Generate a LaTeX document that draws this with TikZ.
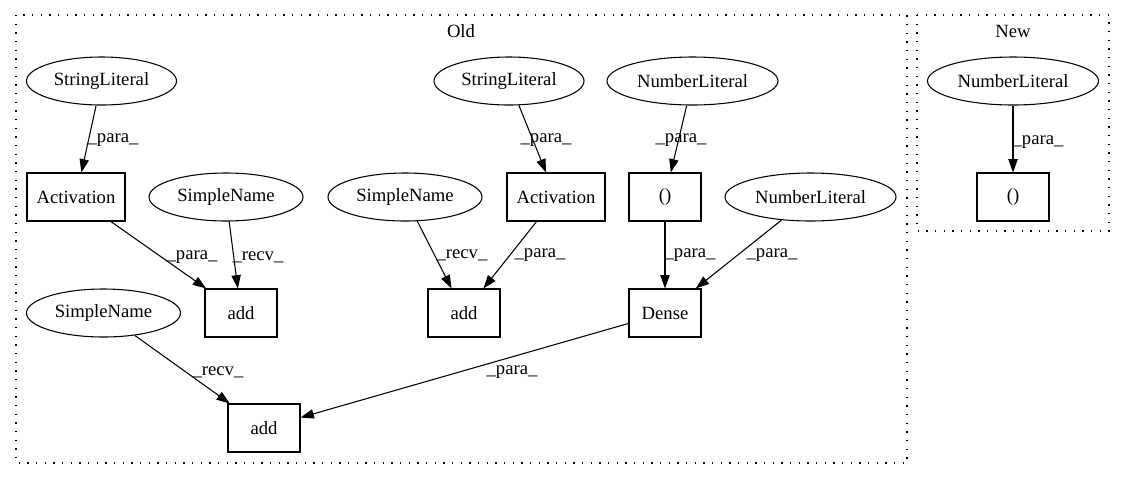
\documentclass[tikz,border=0pt]{standalone}
\usepackage{fontspec}
\setmainfont{Liberation Serif}
\usetikzlibrary{shapes.geometric,arrows.meta}
\begin{document}
\begin{tikzpicture}[x=0.75pt,y=-0.75pt,
  every node/.style={font=\fontsize{14}{16}\selectfont},
  ell/.style={draw,ellipse,line width=0.8pt,inner sep=0pt,minimum height=36pt},
  sl/.style={ell,minimum width=112.5pt},
  nl/.style={ell,minimum width=128.25pt},
  sn/.style={ell,minimum width=115.5pt},
  boxnode/.style={draw,rectangle,line width=0.8pt,inner sep=0pt,minimum height=36pt,minimum width=54pt},
  actbox/.style={boxnode,minimum width=73.5pt},
  edge/.style={draw,line width=0.8pt,-{Triangle[length=10pt,width=7pt]}},
  elab/.style={inner sep=0pt},
  cluster/.style={draw,line width=0.8pt,dash pattern=on 1pt off 5.5pt}]
\useasboundingbox (0,0) rectangle (1125,480);
% clusters
\draw[cluster] (16,15) rectangle (907,463);
\draw[cluster] (917,15) rectangle (1109,231);
\node (oldlbl) at (461,31) {Old};
\node (newlbl) at (1013,31) {New};
% nodes Old
\node[sl] (slL) at (101.5,81) {StringLiteral};
\node[actbox] (actL) at (76,197) {Activation};
\node[sn] (snL) at (226,197) {SimpleName};
\node[boxnode] (addL) at (241,313) {add};
\node[sn] (snM) at (405,197) {SimpleName};
\node[sl] (slM) at (509,81) {StringLiteral};
\node[actbox] (actM) at (556,197) {Activation};
\node[boxnode] (addM) at (464,313) {add};
\node[nl] (nlM) at (692.5,81) {NumberLiteral};
\node[boxnode] (par) at (665,197) {()};
\node[nl] (nlR) at (810.5,197) {NumberLiteral};
\node[boxnode] (dense) at (665,313) {Dense};
\node[sn] (snB) at (103.5,313) {SimpleName};
\node[boxnode] (addB) at (264,428) {add};
% nodes New
\node[nl] (nlN) at (1013,81) {NumberLiteral};
\node[boxnode] (parN) at (1013,197) {()};
% edges
\draw[edge] (slL) -- (actL) node[elab,at={(113,140)}] (e1) {\_para\_};
\draw[edge] (actL) -- (addL) node[elab,at={(192,257)}] (e2) {\_para\_};
\draw[edge] (snL) -- (addL) node[elab,at={(258,257)}] (e3) {\_recv\_};
\draw[edge] (slM) -- (actM) node[elab,at={(546,140)}] (e4) {\_para\_};
\draw[edge] (nlM) -- (par) node[elab,at={(681,140)}] (e5) {\_para\_};
\draw[edge] (snM) -- (addM) node[elab,at={(462,255)}] (e6) {\_recv\_};
\draw[edge] (actM) -- (addM) node[elab,at={(540,255)}] (e7) {\_para\_};
\draw[edge] (par) -- (dense) node[elab,at={(690,255)}] (e8) {\_para\_};
\draw[edge] (nlR) -- (dense) node[elab,at={(772,255)}] (e9) {\_para\_};
\draw[edge] (snB) -- (addB) node[elab,at={(218,372)}] (e10) {\_recv\_};
\draw[edge] (dense) -- (addB) node[elab,at={(512,372)}] (e11) {\_para\_};
\draw[edge] (nlN) -- (parN) node[elab,at={(1038,142)}] (e12) {\_para\_};
\end{tikzpicture}
\end{document}
